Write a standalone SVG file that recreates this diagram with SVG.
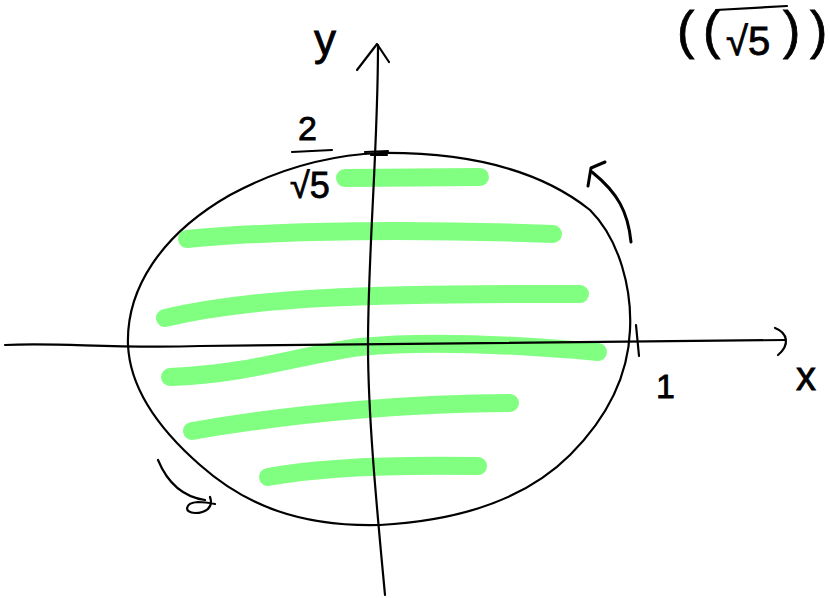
<svg xmlns="http://www.w3.org/2000/svg" width="830" height="598" viewBox="0 0 830 598">
<style>
.ink{fill:none;stroke:#000;stroke-width:2.2;stroke-linecap:round;stroke-linejoin:round}
.hl{fill:none;stroke:#80ff80;stroke-width:18;stroke-linecap:round;stroke-linejoin:round}
.t{font-family:"Liberation Sans","DejaVu Sans",sans-serif;fill:#000;stroke:#000;stroke-width:0.8}
</style>
<rect width="830" height="598" fill="#fff"/>
<g id="shading">
<path class="hl" d="M345,178 L480,177"/>
<path class="hl" d="M187,239 C280,230 420,229 553,234"/>
<path class="hl" d="M165,318 C250,298 360,293 580,294"/>
<path class="hl" d="M170,377 C250,374 300,355 360,347 C430,340 520,345 598,352"/>
<path class="hl" d="M192,431 C300,412 420,403 510,403"/>
<path class="hl" d="M268,477 C330,465 420,465 478,466"/>
</g>
<g id="region">
<path class="ink" d="M128,345 C126,290 160,235 230,195 C280,168 330,155 380,153 C470,152 540,170 590,210 C620,240 632,290 630,330 C628,380 605,420 570,455 C530,495 470,520 380,525 C300,527 245,505 200,465 C160,430 130,390 128,345 Z"/>
</g>
<g id="axes">
<path class="ink" d="M5,345 C60,342 110,349 200,346 C350,343 500,342 785,340"/>
<path class="ink" d="M775,328 C788,333 790,345 778,355"/>
<path class="ink" d="M385,595 C378,520 368,420 368,345 C368,250 378,150 378,45"/>
<path class="ink" d="M357,70 L377,44 L389,62"/>
<path class="ink" d="M365,152 L388,151 M371,155 L387,155"/>
<path class="ink" d="M636,325 L639,356"/>
</g>
<g id="arrows">
<path class="ink" d="M631,242 C628,212 618,193 592,172" style="stroke-width:3"/>
<path class="ink" d="M588,186 L591,168 L605,162" style="stroke-width:3"/>
<path class="ink" d="M158,460 C168,484 184,497 205,500 M210,497 C214,508 205,513 195,513 C184,513 184,503 198,502 C205,502 210,503 215,504"/>
</g>
<g id="labels">
<text class="t" x="314" y="55" font-size="44">y</text>
<text class="t" x="298" y="140" font-size="34">2</text>
<path class="ink" d="M292,152 L332,150"/>
<text class="t" x="290" y="198" font-size="36">√5</text>
<text class="t" x="656" y="398" font-size="34">1</text>
<text class="t" x="796" y="390" font-size="40">x</text>
<text class="t" x="677" y="48" font-size="52">(</text>
<text class="t" x="703" y="48" font-size="52">(</text>
<path class="ink" d="M716,10 L787,6"/>
<text class="t" x="726" y="55" font-size="40">√5</text>
<text class="t" x="783" y="48" font-size="52">)</text>
<text class="t" x="810" y="48" font-size="52">)</text>
</g>
</svg>
